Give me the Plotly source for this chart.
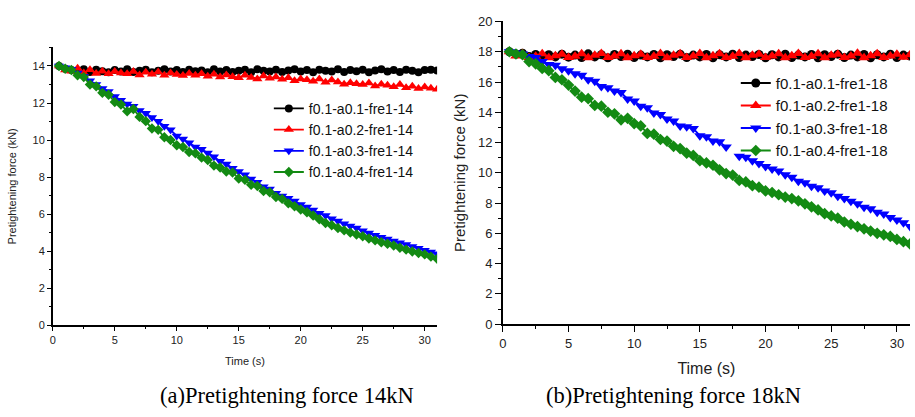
import plotly.graph_objects as go

time_s = [0.5 * i for i in range(1, 63)]

# Panel (a) 14 kN
a_f01_a01 = [14.00, 13.85, 13.78, 13.70, 13.82, 13.68, 13.80, 13.72, 13.66, 13.78,
             13.70, 13.82, 13.68, 13.75, 13.80, 13.66, 13.74, 13.82, 13.70, 13.78,
             13.68, 13.80, 13.72, 13.76, 13.66, 13.82, 13.70, 13.78, 13.68, 13.74,
             13.80, 13.66, 13.82, 13.74, 13.70, 13.80, 13.68, 13.76, 13.82, 13.70,
             13.78, 13.66, 13.80, 13.74, 13.70, 13.82, 13.68, 13.78, 13.72, 13.80,
             13.66, 13.76, 13.82, 13.70, 13.78, 13.68, 13.80, 13.74, 13.66, 13.78,
             13.80, 13.76]
a_f01_a02 = [14.00, 13.78, 13.72, 13.88, 13.62, 13.80, 13.60, 13.72, 13.58, 13.70,
             13.62, 13.58, 13.70, 13.52, 13.66, 13.56, 13.68, 13.50, 13.62, 13.54,
             13.48, 13.60, 13.50, 13.58, 13.44, 13.56, 13.40, 13.52, 13.42, 13.36,
             13.50, 13.38, 13.30, 13.46, 13.34, 13.40, 13.28, 13.36, 13.20, 13.30,
             13.26, 13.18, 13.30, 13.12, 13.24, 13.14, 13.02, 13.10, 13.04, 13.00,
             13.08, 12.92, 13.02, 12.96, 12.88, 13.00, 12.82, 12.90, 12.78, 12.86,
             12.80, 12.74]
a_f01_a03 = [14.00, 13.90, 13.82, 13.62, 13.45, 13.20, 13.00, 12.78, 12.62, 12.35,
             12.15, 11.95, 11.82, 11.60, 11.45, 11.22, 11.02, 10.75, 10.55, 10.22,
             10.05, 9.85, 9.62, 9.50, 9.30, 9.10, 8.85, 8.70, 8.48, 8.30,
             8.12, 7.90, 7.72, 7.48, 7.35, 7.12, 6.98, 6.85, 6.70, 6.52,
             6.38, 6.22, 6.05, 5.92, 5.75, 5.62, 5.48, 5.35, 5.25, 5.10,
             4.98, 4.86, 4.75, 4.66, 4.55, 4.45, 4.36, 4.25, 4.15, 4.05,
             3.95, 3.85]
a_f01_a04 = [14.00, 13.85, 13.78, 13.50, 13.40, 13.00, 12.90, 12.55, 12.45, 12.05,
             11.92, 11.55, 11.68, 11.25, 11.02, 10.62, 10.55, 10.15, 10.00, 9.72,
             9.62, 9.35, 9.28, 9.05, 8.92, 8.62, 8.52, 8.30, 8.25, 7.92,
             7.85, 7.58, 7.52, 7.25, 7.18, 6.92, 6.82, 6.58, 6.42, 6.25,
             6.10, 5.92, 5.72, 5.52, 5.40, 5.25, 5.12, 5.00, 4.90, 4.80,
             4.68, 4.58, 4.48, 4.40, 4.30, 4.18, 4.08, 3.98, 3.90, 3.82,
             3.70, 3.58]

# Panel (b) 18 kN
b_f01_a01 = [18.00, 17.85, 17.90, 17.68, 17.82, 17.62, 17.80, 17.66, 17.84, 17.64,
             17.78, 17.62, 17.86, 17.66, 17.80, 17.60, 17.82, 17.68, 17.84, 17.62,
             17.78, 17.66, 17.82, 17.60, 17.80, 17.68, 17.84, 17.62, 17.78, 17.66,
             17.82, 17.60, 17.80, 17.66, 17.84, 17.62, 17.78, 17.68, 17.82, 17.60,
             17.80, 17.66, 17.84, 17.62, 17.78, 17.66, 17.82, 17.60, 17.80, 17.68,
             17.84, 17.62, 17.78, 17.66, 17.82, 17.60, 17.80, 17.66, 17.84, 17.62,
             17.78, 17.72]
b_f01_a02 = [18.00, 17.72, 17.88, 17.62, 17.70, 17.86, 17.60, 17.74, 17.84, 17.62,
             17.70, 17.86, 17.60, 17.76, 17.88, 17.62, 17.72, 17.86, 17.60, 17.74,
             17.84, 17.62, 17.70, 17.88, 17.60, 17.76, 17.86, 17.62, 17.72, 17.88,
             17.60, 17.74, 17.86, 17.62, 17.70, 17.88, 17.60, 17.76, 17.84, 17.62,
             17.72, 17.86, 17.60, 17.74, 17.88, 17.62, 17.70, 17.86, 17.60, 17.76,
             17.84, 17.62, 17.72, 17.90, 17.60, 17.74, 17.86, 17.62, 17.72, 17.84,
             17.64, 17.80]
b_f01_a03 = [18.00, 17.92, 17.85, 17.68, 17.62, 17.35, 17.15, 17.10, 16.88, 16.75,
             16.55, 16.45, 16.15, 16.05, 15.70, 15.62, 15.40, 15.30, 14.88, 14.75,
             14.40, 14.30, 13.95, 13.85, 13.55, 13.42, 13.10, 13.05, 12.92, 12.45,
             12.38, 12.10, 12.05, 11.70, None, 11.10, 11.02, 10.80, 10.62, 10.42,
             10.25, 10.12, 9.88, 9.70, 9.45, 9.35, 9.12, 9.02, 8.80, 8.68,
             8.45, 8.30, 8.12, 7.95, 7.72, 7.62, 7.40, 7.28, 7.05, 6.88,
             6.70, 6.45]
b_f01_a04 = [18.00, 17.85, 17.80, 17.35, 17.20, 16.90, 16.75, 16.30, 16.15, 15.80,
             15.40, 15.00, 14.90, 14.45, 14.40, 14.00, 13.90, 13.50, 13.60, 13.25,
             13.10, 12.60, 12.55, 12.20, 12.10, 11.75, 11.60, 11.30, 11.15, 10.80,
             10.65, 10.50, 10.20, 9.95, 9.85, 9.50, 9.40, 9.15, 9.05, 8.80,
             8.70, 8.55, 8.40, 8.30, 8.15, 7.95, 7.75, 7.55, 7.30, 7.15,
             7.00, 6.75, 6.60, 6.45, 6.30, 6.15, 6.00, 5.90, 5.80, 5.60,
             5.45, 5.30]

names_a = ["f0.1-a0.1-fre1-14", "f0.1-a0.2-fre1-14", "f0.1-a0.3-fre1-14", "f0.1-a0.4-fre1-14"]
names_b = ["f0.1-a0.1-fre1-18", "f0.1-a0.2-fre1-18", "f0.1-a0.3-fre1-18", "f0.1-a0.4-fre1-18"]
colors = ["#000000", "#ff0000", "#0000ff", "#138a13"]
symbols = ["circle", "triangle-up", "triangle-down", "diamond"]
sizes = [8, 9, 9, 8]

FONT = "Liberation Sans"
fig = go.Figure()

for ys, nm, c, s, sz in zip([a_f01_a01, a_f01_a02, a_f01_a03, a_f01_a04], names_a, colors, symbols, sizes):
    fig.add_trace(go.Scatter(x=time_s, y=ys, name=nm, mode="lines+markers",
                             line=dict(color=c, width=1.8),
                             marker=dict(symbol=s, size=sz, color=c),
                             xaxis="x", yaxis="y", legend="legend"))

for ys, nm, c, s, sz in zip([b_f01_a01, b_f01_a02, b_f01_a03, b_f01_a04], names_b, colors, symbols, sizes):
    fig.add_trace(go.Scatter(x=time_s, y=ys, name=nm, mode="lines+markers",
                             line=dict(color=c, width=1.8),
                             marker=dict(symbol=s, size=sz + 1, color=c),
                             connectgaps=False,
                             xaxis="x2", yaxis="y2", legend="legend2"))

W, H = 915, 417
def px(v):
    return v / W
def py(v):
    return 1 - v / H

axis_common = dict(showline=True, linecolor="black", linewidth=1.5, mirror=False,
                   ticks="outside", tickcolor="black", showgrid=False, zeroline=False)

fig.update_layout(
    width=W, height=H, margin=dict(l=0, r=0, t=0, b=0),
    paper_bgcolor="white", plot_bgcolor="white",
    font=dict(family=FONT, color="#222222"),
    xaxis=dict(domain=[px(49), px(435)], range=[0, 31], dtick=5, tick0=0,
               ticklen=4, tickwidth=1, tickfont=dict(size=11),
               minor=dict(ticks="outside", dtick=2.5, ticklen=2.5, tickcolor="black"),
               title=dict(text="Time (s)", font=dict(size=11), standoff=12),
               anchor="y", **axis_common),
    yaxis=dict(domain=[py(330), py(42)], range=[0, 15], dtick=2, tick0=0,
               ticklen=4, tickwidth=1, tickfont=dict(size=11),
               minor=dict(ticks="outside", dtick=1, ticklen=2.5, tickcolor="black"),
               title=dict(text="Pretightening force (kN)", font=dict(size=11), standoff=14),
               anchor="x", **axis_common),
    xaxis2=dict(domain=[px(501), px(910)], range=[0, 31], dtick=5, tick0=0,
                ticklen=6, tickwidth=1, tickfont=dict(size=13),
                minor=dict(ticks="outside", dtick=2.5, ticklen=3, tickcolor="black"),
                title=dict(text="Time (s)", font=dict(size=16), standoff=13),
                anchor="y2", **axis_common),
    yaxis2=dict(domain=[py(329), py(15)], range=[0, 20], dtick=2, tick0=0,
                ticklen=6, tickwidth=1, tickfont=dict(size=13),
                minor=dict(ticks="outside", dtick=1, ticklen=3, tickcolor="black"),
                title=dict(text="Pretightening force (kN)", font=dict(size=15), standoff=9),
                anchor="x2", **axis_common),
    legend=dict(x=px(266), y=py(89), xanchor="left", yanchor="top",
                bgcolor="rgba(0,0,0,0)", font=dict(size=14, family=FONT, color="#111111"),
                tracegroupgap=0, itemwidth=30),
    legend2=dict(x=px(735), y=py(62), xanchor="left", yanchor="top",
                 bgcolor="rgba(0,0,0,0)", font=dict(size=15, family=FONT, color="#111111"),
                 tracegroupgap=0, itemwidth=30),
    annotations=[
        dict(text="(a)Pretightening force 14kN", x=px(284), y=py(403), xref="paper", yref="paper",
             xanchor="center", yanchor="middle", showarrow=False,
             font=dict(family="Liberation Serif", size=22.5, color="black")),
        dict(text="(b)Pretightening force 18kN", x=px(672), y=py(403), xref="paper", yref="paper",
             xanchor="center", yanchor="middle", showarrow=False,
             font=dict(family="Liberation Serif", size=22.5, color="black")),
    ],
)

fig.write_html("out.html")
